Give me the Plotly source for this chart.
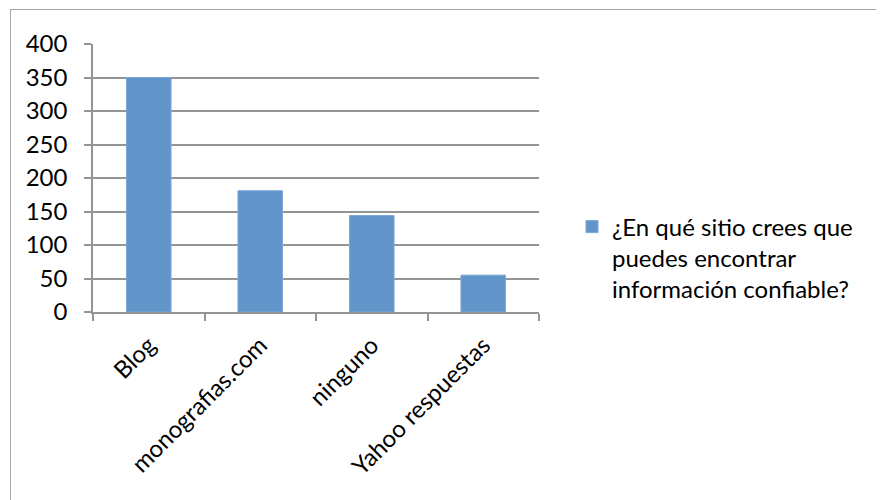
import plotly.graph_objects as go

categories = ["Blog", "monografias.com", "ninguno", "Yahoo respuestas"]
values = [350, 181, 144, 55]
series_name = "¿En qué sitio crees que<br>puedes encontrar<br>información confiable?"
y_ticks = [0, 50, 100, 150, 200, 250, 300, 350, 400]

OFF = 8  # page body margin
W, H = 884 - OFF, 500 - OFF
L, T = 93 - OFF, 44 - OFF
pw, ph = 446, 268
R = W - L - pw
B = H - T - ph

FONT = "Lato"
FS = 24
GRAY = "#949494"
LW = 1.5

fig = go.Figure()
fig.add_trace(go.Bar(
    x=categories, y=values, name=series_name,
    marker=dict(color="#6195c9", line=dict(color="#7ea8d6", width=1)),
    showlegend=True,
))

def px_x(x):
    return (x - OFF - L) / pw

def px_y(y):
    return (T + ph - (y - OFF)) / ph

fig.update_layout(
    width=W, height=H,
    margin=dict(l=L, r=R, t=T, b=B),
    paper_bgcolor="white", plot_bgcolor="white",
    font=dict(family=FONT, size=FS, color="black"),
    bargap=0.6,
    showlegend=True,
    legend=dict(
        x=px_x(572), xanchor="left",
        y=px_y(258), yanchor="middle",
        valign="top",
        font=dict(family=FONT, size=FS, color="black"),
        bgcolor="rgba(0,0,0,0)",
    ),
    xaxis=dict(
        type="category",
        showline=True, linecolor=GRAY, linewidth=LW,
        ticks="outside", ticklen=7, tickcolor=GRAY, tickwidth=LW,
        tickson="boundaries",
        tickangle=-45,
        ticklabelstandoff=8,
        showgrid=False,
        tickfont=dict(family=FONT, size=FS, color="black"),
        fixedrange=True,
    ),
    yaxis=dict(
        range=[0, 400],
        tickvals=y_ticks,
        ticktext=[str(v) for v in y_ticks],
        showline=True, linecolor=GRAY, linewidth=LW,
        ticks="outside", ticklen=7, tickcolor=GRAY, tickwidth=LW,
        ticklabelstandoff=12,
        showgrid=True, gridcolor=GRAY, gridwidth=LW,
        zeroline=False,
        tickfont=dict(family=FONT, size=FS, color="black"),
        fixedrange=True,
    ),
    shapes=[
        dict(type="line", xref="paper", yref="paper",
             x0=px_x(10), x1=px_x(884), y0=px_y(9.5), y1=px_y(9.5),
             line=dict(color="#a6a6a6", width=1)),
        dict(type="line", xref="paper", yref="paper",
             x0=px_x(10.5), x1=px_x(10.5), y0=px_y(9.5), y1=px_y(500),
             line=dict(color="#a6a6a6", width=1)),
    ],
)

fig.write_html("out.html")
